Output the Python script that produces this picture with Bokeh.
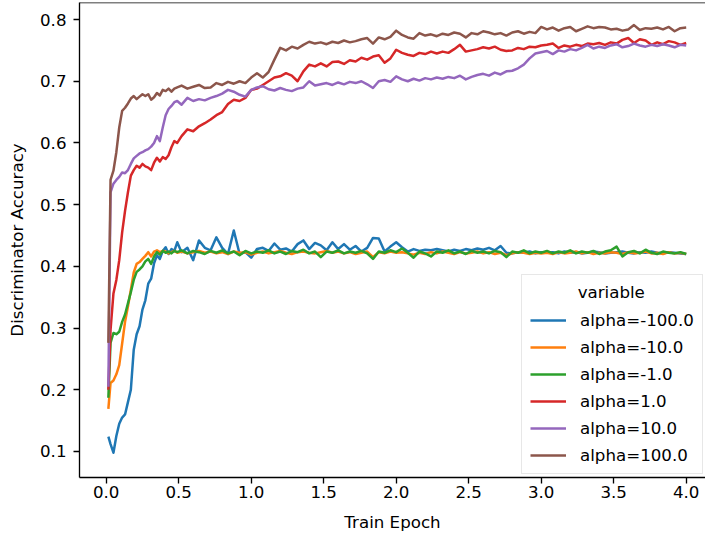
from bokeh.plotting import figure
from bokeh.models import Legend, LegendItem, FixedTicker, NumeralTickFormatter, Span, Range1d
from bokeh.embed import file_html
from bokeh.resources import INLINE

# Train epochs (sampling grid of the runs)
epochs = [
    0.015, 0.03, 0.05, 0.07, 0.09, 0.11, 0.13, 0.15, 0.17, 0.19, 0.21, 0.23, 0.25,
    0.27, 0.29, 0.31, 0.33, 0.35, 0.37, 0.39, 0.41, 0.43, 0.45, 0.47, 0.49,
    0.52, 0.56, 0.60, 0.64, 0.68, 0.72, 0.76, 0.80, 0.84, 0.88, 0.92, 0.96, 1.00,
    1.04, 1.08, 1.12, 1.16, 1.20, 1.24, 1.28, 1.32, 1.36, 1.40, 1.44, 1.48, 1.52,
    1.56, 1.60, 1.64, 1.68, 1.72, 1.76, 1.80, 1.84, 1.88, 1.92, 1.96, 2.00,
    2.04, 2.08, 2.12, 2.16, 2.20, 2.24, 2.28, 2.32, 2.36, 2.40, 2.44, 2.48, 2.52,
    2.56, 2.60, 2.64, 2.68, 2.72, 2.76, 2.80, 2.84, 2.88, 2.92, 2.96, 3.00,
    3.04, 3.08, 3.12, 3.16, 3.20, 3.24, 3.28, 3.32, 3.36, 3.40, 3.44, 3.48, 3.52,
    3.56, 3.60, 3.64, 3.68, 3.72, 3.76, 3.80, 3.84, 3.88, 3.92, 3.96, 4.00,
]

alpha_m100 = [
    0.124, 0.112, 0.098, 0.125, 0.145, 0.155, 0.160, 0.180, 0.200, 0.265, 0.290, 0.303, 0.330,
    0.345, 0.372, 0.380, 0.405, 0.418, 0.412, 0.425, 0.431, 0.420, 0.428, 0.425, 0.439,
    0.423, 0.430, 0.410, 0.442, 0.430, 0.426, 0.447, 0.430, 0.420, 0.458, 0.420, 0.423, 0.414,
    0.428, 0.430, 0.425, 0.437, 0.427, 0.429, 0.424, 0.436, 0.442, 0.428, 0.438, 0.434, 0.426,
    0.439, 0.428, 0.436, 0.427, 0.433, 0.424, 0.430, 0.446, 0.445, 0.424, 0.432, 0.439,
    0.431, 0.424, 0.428, 0.425, 0.427, 0.426, 0.428, 0.426, 0.424, 0.427, 0.425, 0.428, 0.426,
    0.429, 0.427, 0.430, 0.426, 0.433, 0.422, 0.421, 0.423, 0.422, 0.424, 0.421, 0.423,
    0.422, 0.423, 0.421, 0.424, 0.422, 0.423, 0.421, 0.422, 0.424, 0.423, 0.421, 0.422, 0.423,
    0.424, 0.422, 0.421, 0.423, 0.422, 0.424, 0.422, 0.421, 0.423, 0.422, 0.421, 0.420,
]

alpha_m10 = [
    0.169, 0.211, 0.215, 0.225, 0.240, 0.275, 0.310, 0.335, 0.362, 0.390, 0.404, 0.407, 0.412,
    0.417, 0.423, 0.416, 0.424, 0.426, 0.423, 0.425, 0.424, 0.421, 0.423, 0.425, 0.422,
    0.424, 0.421, 0.423, 0.425, 0.422, 0.424, 0.421, 0.423, 0.420, 0.424, 0.422, 0.423, 0.419,
    0.422, 0.424, 0.421, 0.423, 0.425, 0.422, 0.420, 0.423, 0.424, 0.422, 0.421, 0.423, 0.425,
    0.422, 0.424, 0.421, 0.423, 0.420, 0.422, 0.424, 0.415, 0.423, 0.421, 0.424, 0.422,
    0.423, 0.421, 0.419, 0.422, 0.420, 0.423, 0.421, 0.424, 0.422, 0.420, 0.423, 0.421, 0.422,
    0.424, 0.421, 0.423, 0.420, 0.422, 0.418, 0.421, 0.423, 0.422, 0.420, 0.422, 0.421,
    0.422, 0.420, 0.423, 0.421, 0.422, 0.424, 0.421, 0.423, 0.420, 0.422, 0.421, 0.423, 0.422,
    0.420, 0.423, 0.421, 0.422, 0.424, 0.421, 0.422, 0.420, 0.423, 0.421, 0.422, 0.420,
]

alpha_m1 = [
    0.187, 0.276, 0.292, 0.290, 0.294, 0.310, 0.322, 0.340, 0.358, 0.378, 0.391, 0.395, 0.400,
    0.408, 0.412, 0.404, 0.416, 0.423, 0.419, 0.425, 0.422, 0.424, 0.421, 0.425, 0.423,
    0.426, 0.421, 0.425, 0.423, 0.420, 0.425, 0.422, 0.426, 0.421, 0.424, 0.418, 0.425, 0.421,
    0.424, 0.422, 0.426, 0.421, 0.424, 0.420, 0.425, 0.423, 0.427, 0.421, 0.424, 0.415, 0.424,
    0.422, 0.426, 0.421, 0.424, 0.422, 0.425, 0.421, 0.412, 0.424, 0.422, 0.426, 0.423,
    0.429, 0.422, 0.414, 0.424, 0.421, 0.416, 0.424, 0.422, 0.426, 0.421, 0.424, 0.420, 0.425,
    0.422, 0.424, 0.421, 0.425, 0.423, 0.415, 0.424, 0.422, 0.426, 0.421, 0.424, 0.422,
    0.425, 0.421, 0.424, 0.422, 0.426, 0.421, 0.424, 0.422, 0.425, 0.420, 0.424, 0.426, 0.432,
    0.416, 0.423, 0.425, 0.421, 0.427, 0.422, 0.420, 0.424, 0.422, 0.421, 0.423, 0.420,
]

alpha_p1 = [
    0.200, 0.297, 0.356, 0.378, 0.410, 0.455, 0.490, 0.520, 0.547, 0.556, 0.563, 0.560, 0.566,
    0.562, 0.560, 0.556, 0.568, 0.576, 0.570, 0.577, 0.574, 0.580, 0.593, 0.603, 0.600,
    0.611, 0.622, 0.619, 0.627, 0.632, 0.638, 0.645, 0.650, 0.663, 0.670, 0.668, 0.673, 0.686,
    0.688, 0.694, 0.700, 0.706, 0.708, 0.713, 0.709, 0.700, 0.716, 0.727, 0.724, 0.729, 0.724,
    0.731, 0.732, 0.728, 0.734, 0.732, 0.738, 0.735, 0.740, 0.742, 0.730, 0.737, 0.751,
    0.746, 0.743, 0.741, 0.746, 0.744, 0.748, 0.745, 0.748, 0.746, 0.752, 0.759, 0.748, 0.750,
    0.752, 0.755, 0.753, 0.756, 0.751, 0.749, 0.750, 0.754, 0.752, 0.756, 0.755, 0.758,
    0.759, 0.761, 0.754, 0.758, 0.756, 0.759, 0.757, 0.761, 0.760, 0.762, 0.759, 0.763, 0.761,
    0.767, 0.770, 0.762, 0.768, 0.766, 0.759, 0.763, 0.760, 0.765, 0.763, 0.759, 0.762,
]

alpha_p10 = [
    0.205, 0.520, 0.534, 0.540, 0.545, 0.552, 0.551, 0.556, 0.566, 0.575, 0.579, 0.583, 0.585,
    0.588, 0.590, 0.594, 0.600, 0.611, 0.603, 0.625, 0.645, 0.655, 0.660, 0.666, 0.668,
    0.662, 0.673, 0.668, 0.671, 0.669, 0.673, 0.676, 0.680, 0.686, 0.683, 0.678, 0.675, 0.686,
    0.690, 0.692, 0.687, 0.685, 0.689, 0.686, 0.684, 0.688, 0.690, 0.700, 0.693, 0.695, 0.697,
    0.694, 0.698, 0.695, 0.699, 0.697, 0.700, 0.695, 0.689, 0.700, 0.702, 0.699, 0.708,
    0.703, 0.700, 0.704, 0.701, 0.705, 0.703, 0.706, 0.704, 0.707, 0.705, 0.709, 0.703, 0.707,
    0.710, 0.712, 0.709, 0.714, 0.711, 0.716, 0.717, 0.721, 0.727, 0.737, 0.745, 0.747,
    0.749, 0.744, 0.750, 0.748, 0.752, 0.750, 0.754, 0.759, 0.753, 0.756, 0.754, 0.758, 0.760,
    0.755, 0.757, 0.761, 0.758, 0.756, 0.759, 0.757, 0.760, 0.758, 0.755, 0.759, 0.758,
]

alpha_p100 = [
    0.276, 0.540, 0.555, 0.585, 0.625, 0.652, 0.657, 0.664, 0.672, 0.676, 0.671, 0.675, 0.679,
    0.676, 0.679, 0.670, 0.674, 0.681, 0.677, 0.686, 0.684, 0.688, 0.683, 0.688, 0.690,
    0.693, 0.688, 0.691, 0.694, 0.689, 0.690, 0.697, 0.694, 0.699, 0.696, 0.700, 0.697, 0.706,
    0.713, 0.706, 0.715, 0.735, 0.754, 0.750, 0.756, 0.753, 0.759, 0.764, 0.761, 0.763, 0.760,
    0.764, 0.762, 0.766, 0.763, 0.765, 0.768, 0.770, 0.761, 0.771, 0.768, 0.772, 0.782,
    0.775, 0.771, 0.769, 0.778, 0.774, 0.776, 0.773, 0.777, 0.775, 0.779, 0.777, 0.771, 0.778,
    0.776, 0.781, 0.779, 0.776, 0.778, 0.774, 0.779, 0.781, 0.777, 0.780, 0.778, 0.788,
    0.784, 0.787, 0.782, 0.786, 0.788, 0.781, 0.785, 0.789, 0.786, 0.788, 0.787, 0.784, 0.785,
    0.782, 0.784, 0.791, 0.783, 0.786, 0.785, 0.787, 0.784, 0.788, 0.781, 0.786, 0.787,
]

series_labels = ["alpha=-100.0", "alpha=-10.0", "alpha=-1.0", "alpha=1.0", "alpha=10.0", "alpha=100.0"]
series_values = [alpha_m100, alpha_m10, alpha_m1, alpha_p1, alpha_p10, alpha_p100]
series_colors = ["#1f77b4", "#ff7f0e", "#2ca02c", "#d62728", "#9467bd", "#8c564b"]

x_ticks = [0.0, 0.5, 1.0, 1.5, 2.0, 2.5, 3.0, 3.5, 4.0]
y_ticks = [0.1, 0.2, 0.3, 0.4, 0.5, 0.6, 0.7, 0.8]

FONT = "DejaVu Sans"
FS = "16.67px"
Y_TOP = 0.8276

p = figure(
    width=705, height=535,
    output_backend="svg", toolbar_location=None,
    x_range=Range1d(-0.1841, 4.1331), y_range=Range1d(0.0578, Y_TOP),
    min_border_left=79, min_border_right=0, min_border_top=2, min_border_bottom=58,
    x_axis_label="Train Epoch", y_axis_label="Discriminator Accuracy",
)
p.outline_line_color = None
p.xgrid.grid_line_color = None
p.ygrid.grid_line_color = None
p.background_fill_color = "white"
p.border_fill_color = "white"

p.xaxis.ticker = FixedTicker(ticks=x_ticks)
p.yaxis.ticker = FixedTicker(ticks=y_ticks)
p.xaxis.formatter = NumeralTickFormatter(format="0.0")
p.yaxis.formatter = NumeralTickFormatter(format="0.0")

for ax in (p.xaxis, p.yaxis):
    ax.axis_line_color = "black"
    ax.axis_line_width = 1.33
    ax.major_tick_line_color = "black"
    ax.major_tick_line_width = 1.33
    ax.major_tick_out = 6
    ax.major_tick_in = 0
    ax.minor_tick_line_color = None
    ax.major_label_text_font = FONT
    ax.major_label_text_font_size = FS
    ax.major_label_text_color = "black"
    ax.axis_label_text_font = FONT
    ax.axis_label_text_font_size = FS
    ax.axis_label_text_font_style = "normal"
    ax.axis_label_text_color = "black"

p.xaxis.major_label_standoff = 2
p.xaxis.axis_label_standoff = 12
p.yaxis.major_label_standoff = 7
p.yaxis.axis_label_standoff = 10

# top spine
p.add_layout(Span(location=Y_TOP, dimension="width", line_color="black", line_width=1.33))

items = []
for lab, vals, col in zip(series_labels, series_values, series_colors):
    r = p.line(epochs, vals, line_color=col, line_width=2.5, line_join="round")
    items.append(LegendItem(label=lab, renderers=[r]))

legend = Legend(
    items=items,
    location=(442, 3),
    title="\u00a0" * 9 + "variable",
    title_text_font=FONT, title_text_font_size=FS, title_text_font_style="normal",
    title_text_color="black", title_standoff=8,
    label_text_font=FONT, label_text_font_size=FS, label_text_color="black",
    glyph_width=36, glyph_height=20, spacing=7, label_standoff=14,
    padding=8, margin=0,
    border_line_color="#d0d0d0", border_line_width=1.3,
    background_fill_color="white", background_fill_alpha=0.8,
)
p.add_layout(legend)

open("out.html", "w").write(file_html(p, INLINE))
